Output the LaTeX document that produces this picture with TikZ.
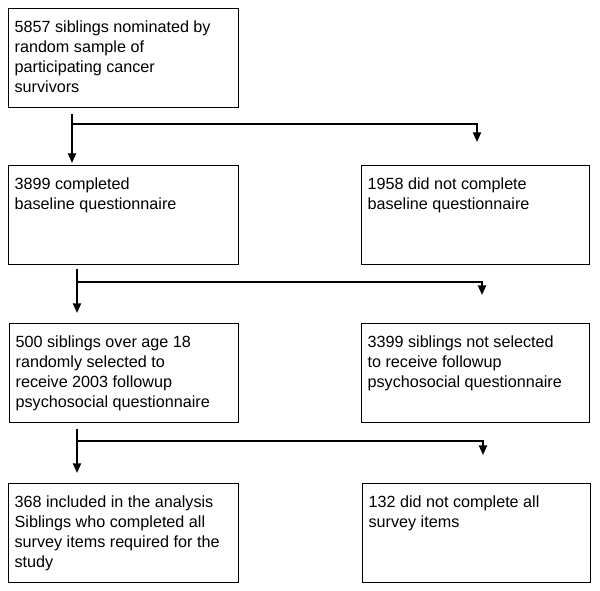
\documentclass[tikz,border=0pt]{standalone}
\usepackage{fontspec}
\setmainfont{Liberation Sans}
\usetikzlibrary{arrows.meta}

\tikzset{
  stage/.style={draw, line width=0.9pt, anchor=north west,
                inner xsep=0.15cm, inner ysep=0.3cm,
                font=\fontsize{11.5}{14.2}\selectfont},
  flow/.style={line width=1.4pt, -{Triangle[length=0.24cm,width=0.2cm]}},
}
\newcommand{\stagetext}[2]{\parbox[t][1.87cm][t]{#1}{\raggedright #2}}

\begin{document}
\begin{tikzpicture}[x=0.025cm,y=-0.025cm]
\useasboundingbox (0,0) rectangle (600,591);

% boxes
\node[stage] (b1) at (8,8)     {\stagetext{5.45cm}{5857 siblings nominated by\\ random sample of\\ participating cancer\\ survivors}};
\node[stage] (l2) at (8,165)   {\stagetext{5.45cm}{3899 completed\\ baseline questionnaire}};
\node[stage] (r2) at (361,165) {\stagetext{5.4cm}{1958 did not complete\\ baseline questionnaire}};
\node[stage] (l3) at (9,323)   {\stagetext{5.42cm}{500 siblings over age 18\\ randomly selected to\\ receive 2003 followup\\ psychosocial questionnaire}};
\node[stage] (r3) at (361,323) {\stagetext{5.4cm}{3399 siblings not selected\\ to receive followup\\ psychosocial questionnaire}};
\node[stage] (l4) at (8,483)   {\stagetext{5.45cm}{368 included in the analysis\\ Siblings who completed all\\ survey items required for the\\ study}};
\node[stage] (r4) at (362,483) {\stagetext{5.4cm}{132 did not complete all\\ survey items}};

% branch points
\coordinate (j1) at (72,124);  \coordinate (e1) at (477,142);
\coordinate (j2) at (77,282);  \coordinate (e2) at (482,295);
\coordinate (j3) at (77,441);  \coordinate (e3) at (483,455);

\draw[flow, shorten <=0.15cm, shorten >=0.05cm] (b1.south -| j1) -- (l2.north -| j1);
\draw[flow] (j1) -| (e1);

\draw[flow, shorten <=0.1cm, shorten >=0.25cm] (l2.south -| j2) -- (l3.north -| j2);
\draw[flow] (j2) -| (e2);

\draw[flow, shorten <=0.15cm, shorten >=0.25cm] (l3.south -| j3) -- (l4.north -| j3);
\draw[flow] (j3) -| (e3);
\end{tikzpicture}
\end{document}
